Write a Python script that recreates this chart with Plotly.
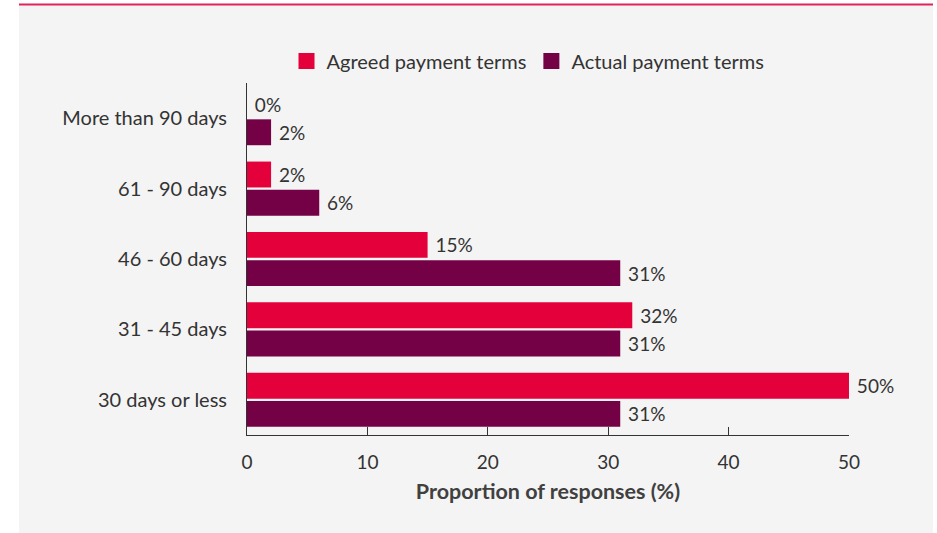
import plotly.graph_objects as go

categories = ["30 days or less", "31 - 45 days", "46 - 60 days", "61 - 90 days", "More than 90 days"]
agreed = [50, 32, 15, 2, 0]
actual = [31, 31, 31, 6, 2]
x_ticks = [0, 10, 20, 30, 40, 50]

RED = "#e4003b"
PURPLE = "#740046"
TXT = "#333333"
FONT = "Lato"

W, H = 937, 533
L, R, T, B = 247, 88, 83, 98
pw, ph = W - L - R, H - T - B

def px(x):
    return (x - L) / pw

def py(y):
    return (H - B - y) / ph

fig = go.Figure()
fig.add_trace(go.Bar(
    y=categories, x=actual, name="Actual payment terms", orientation="h",
    marker=dict(color=PURPLE, line=dict(width=0)), showlegend=False,
    text=[f" {v}%" for v in actual], textposition="outside", constraintext="none",
    textfont=dict(size=19, color=TXT, family=FONT), cliponaxis=False,
))
fig.add_trace(go.Bar(
    y=categories, x=agreed, name="Agreed payment terms", orientation="h",
    marker=dict(color=RED, line=dict(width=0)), showlegend=False,
    text=[f" {v}%" for v in agreed], textposition="outside", constraintext="none",
    textfont=dict(size=19, color=TXT, family=FONT), cliponaxis=False,
))
# legend entries with square swatches
for name, col in [("Actual payment terms", PURPLE), ("Agreed payment terms", RED)]:
    fig.add_trace(go.Scatter(
        x=[None], y=[None], mode="markers", name=name,
        marker=dict(symbol="square", size=19, color=col), showlegend=True,
    ))

fig.update_layout(
    width=W, height=H,
    margin=dict(l=L, r=R, t=T, b=B),
    paper_bgcolor="white",
    plot_bgcolor="rgba(0,0,0,0)",
    barmode="group", bargap=0.2, bargroupgap=0.08,
    font=dict(family=FONT, size=19, color=TXT),
    showlegend=True,
    legend=dict(orientation="h", traceorder="reversed", itemsizing="trace",
                x=px(528), y=py(61), xanchor="center", yanchor="middle",
                font=dict(size=20, color=TXT), itemwidth=30,
                bgcolor="rgba(0,0,0,0)"),
    xaxis=dict(range=[0, 50], tickvals=x_ticks, showgrid=False, zeroline=False,
               showline=True, linecolor="#333333", linewidth=1,
               ticks="inside", ticklen=8, tickcolor="#333333",
               ticklabelstandoff=10,
               tickfont=dict(size=19, color=TXT),
               title=dict(text="Proportion of responses (%)", standoff=12,
                          font=dict(size=21.5, color="#404040", weight=700))),
    yaxis=dict(showgrid=False, zeroline=False, showline=True, linecolor="#333333",
               linewidth=1, ticks="outside", ticklen=15, tickcolor="rgba(0,0,0,0)",
               tickfont=dict(size=20, color=TXT)),
    shapes=[
        dict(type="rect", xref="paper", yref="paper", x0=px(19), x1=px(933), y0=py(533), y1=py(5),
             fillcolor="#f4f4f4", line=dict(width=0), layer="below"),
        dict(type="line", xref="paper", yref="paper", x0=px(19), x1=px(933), y0=py(4.5), y1=py(4.5),
             line=dict(color="#e0245a", width=2), layer="above"),
    ],
)

fig.write_html("out.html")
